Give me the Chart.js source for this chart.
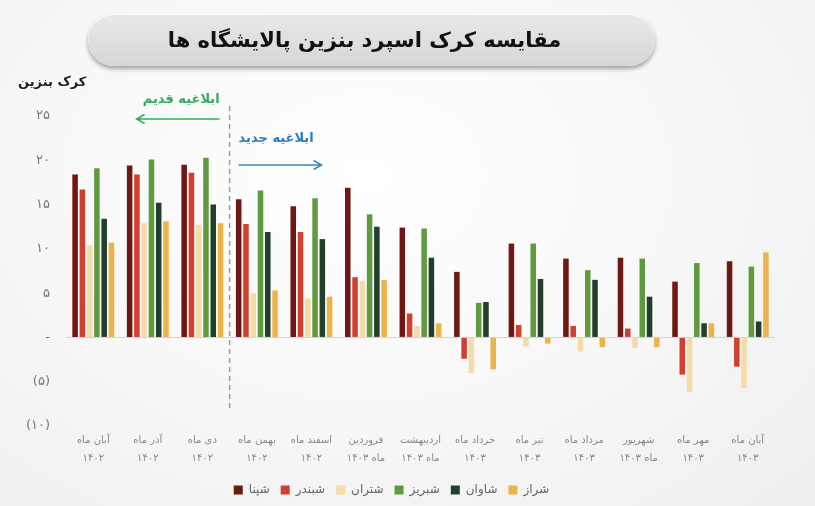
<!DOCTYPE html>
<html>
<head>
<meta charset="utf-8">
<script src="https://cdn.jsdelivr.net/npm/chart.js@4.4.1/dist/chart.umd.min.js"></script>
<style>
  html, body { margin: 0; padding: 0; }
  body {
    width: 815px; height: 506px; overflow: hidden;
    background: radial-gradient(ellipse at 45% 35%, #ffffff 0%, #f7f7f7 55%, #eeeeee 100%);
    font-family: "DejaVu Sans", sans-serif;
  }
  #wrap { position: relative; width: 815px; height: 506px; }
  #title {
    position: absolute; left: 88px; top: 14px; width: 567px; height: 52px;
    border-radius: 26px;
    background: linear-gradient(#e9e9e9, #d6d6d6);
    box-shadow: 0 3px 4px rgba(0,0,0,0.35), inset 0 1px 1px #fff;
    text-align: center; line-height: 52px;
    font-weight: bold; font-size: 21px; color: #111;
    direction: rtl; box-sizing: border-box; padding-right: 14px;
  }
  #ytitle {
    position: absolute; left: 18px; top: 74px;
    font-weight: bold; font-size: 13px; color: #222; direction: rtl;
  }
  canvas { position: absolute; left: 0; top: 0; }
</style>
</head>
<body>
<div id="wrap">
  <canvas id="crack" width="815" height="506"></canvas>
  <div id="title">مقایسه کرک اسپرد بنزین پالایشگاه ها</div>
  <div id="ytitle">کرک بنزین</div>
</div>
<script>
// months (x axis), two lines each
const months = [
  ['آبان ماه', '۱۴۰۲'],
  ['آذر ماه', '۱۴۰۲'],
  ['دی ماه', '۱۴۰۲'],
  ['بهمن ماه', '۱۴۰۲'],
  ['اسفند ماه', '۱۴۰۲'],
  ['فروردین', 'ماه ۱۴۰۳'],
  ['اردیبهشت', 'ماه ۱۴۰۳'],
  ['خرداد ماه', '۱۴۰۳'],
  ['تیر ماه', '۱۴۰۳'],
  ['مرداد ماه', '۱۴۰۳'],
  ['شهریور', 'ماه ۱۴۰۳'],
  ['مهر ماه', '۱۴۰۳'],
  ['آبان ماه', '۱۴۰۳']
]

const shepna    = [18.4, 19.4, 19.5, 15.6, 14.8, 16.9, 12.4, 7.4, 10.6, 8.9, 9.0, 6.3, 8.6]
const shabandar = [16.7, 18.4, 18.6, 12.8, 11.9, 6.8, 2.7, -2.4, 1.4, 1.3, 1.0, -4.2, -3.3]
const shetran   = [10.4, 12.9, 12.7, 5.0, 4.4, 6.4, 1.3, -4.0, -1.0, -1.6, -1.2, -6.2, -5.7]
const shabriz   = [19.1, 20.1, 20.3, 16.6, 15.7, 13.9, 12.3, 3.9, 10.6, 7.6, 8.9, 8.4, 8.0]
const shavan    = [13.4, 15.2, 15.0, 11.9, 11.1, 12.5, 9.0, 4.0, 6.6, 6.5, 4.6, 1.6, 1.8]
const shiraz    = [10.7, 13.1, 12.9, 5.3, 4.6, 6.5, 1.6, -3.6, -0.7, -1.1, -1.1, 1.6, 9.6]

const seriesNames = ['شپنا', 'شبندر', 'شتران', 'شبریز', 'شاوان', 'شراز']
const seriesColors = ['#6f1712', '#d13f2e', '#f3dca8', '#5f9a3f', '#223f2b', '#ebb34a']
const seriesData = [shepna, shabandar, shetran, shabriz, shavan, shiraz]

// split between old and new notice (after the third month)
const splitAfter = 2

const faDigits = '۰۱۲۳۴۵۶۷۸۹'
function toFa(n) {
  return String(n).replace(/[0-9]/g, d => faDigits[d])
}

const noticePlugin = {
  id: 'notice',
  afterDraw(chart) {
    const ctx = chart.ctx
    const x = chart.scales.x
    const lx = (x.getPixelForValue(splitAfter) + x.getPixelForValue(splitAfter + 1)) / 2
    ctx.save()
    // dashed divider
    ctx.strokeStyle = '#9a9a9a'
    ctx.lineWidth = 1.5
    ctx.setLineDash([5, 4])
    ctx.beginPath()
    ctx.moveTo(lx, 106)
    ctx.lineTo(lx, 412)
    ctx.stroke()
    ctx.setLineDash([])

    // old notice
    ctx.font = 'bold 13px "DejaVu Sans"'
    ctx.textAlign = 'right'
    ctx.textBaseline = 'middle'
    ctx.fillStyle = '#2fae5e'
    ctx.fillText('ابلاغیه قدیم', lx - 10, 100)
    ctx.strokeStyle = '#2fae5e'
    ctx.lineWidth = 1.5
    ctx.beginPath()
    ctx.moveTo(lx - 10, 119)
    ctx.lineTo(lx - 93, 119)
    ctx.moveTo(lx - 85, 114.5)
    ctx.lineTo(lx - 93, 119)
    ctx.lineTo(lx - 85, 123.5)
    ctx.stroke()

    // new notice
    ctx.textAlign = 'left'
    ctx.fillStyle = '#2a7cbf'
    ctx.fillText('ابلاغیه جدید', lx + 9, 139)
    ctx.strokeStyle = '#3a8bb0'
    ctx.beginPath()
    ctx.moveTo(lx + 9, 165)
    ctx.lineTo(lx + 92, 165)
    ctx.moveTo(lx + 84, 160.5)
    ctx.lineTo(lx + 92, 165)
    ctx.lineTo(lx + 84, 169.5)
    ctx.stroke()
    ctx.restore()
  }
}

const data_k = {
  labels: months,
  datasets: seriesNames.map((name, i) => ({
    label: name,
    data: seriesData[i],
    backgroundColor: seriesColors[i],
    borderWidth: 0,
    barPercentage: 0.76,
    categoryPercentage: 0.8
  }))
}

const config_k = {
  type: 'bar',
  data: data_k,
  options: {
    responsive: false,
    animation: false,
    layout: { padding: { top: 116, left: 8, right: 40, bottom: 0 } },
    plugins: {
      tooltip: { enabled: false },
      legend: {
        position: 'bottom',
        labels: {
          boxWidth: 9, boxHeight: 9, padding: 11,
          color: '#666',
          font: { family: 'DejaVu Sans', size: 12 }
        }
      }
    },
    scales: {
      x: {
        grid: { display: false, drawTicks: false },
        border: { display: false },
        ticks: {
          padding: 6,
          color: '#888',
          maxRotation: 0,
          autoSkip: false,
          font: { family: 'DejaVu Sans', size: 10, lineHeight: 1.75 }
        }
      },
      y: {
        min: -10, max: 25,
        afterFit(scale) { scale.width = 58 },
        grid: {
          drawTicks: false,
          color: c => c.tick && c.tick.value === 0 ? '#d4d4d4' : 'rgba(0,0,0,0)'
        },
        border: { display: false },
        ticks: {
          stepSize: 5,
          padding: 16,
          color: '#777',
          font: { family: 'DejaVu Sans', size: 13 },
          callback: v => v === 0 ? '-' : (v < 0 ? '(' + toFa(-v) + ')' : toFa(v))
        }
      }
    }
  },
  plugins: [noticePlugin]
}

const myChart_k = new Chart(document.getElementById('crack'), config_k)
</script>
</body>
</html>
